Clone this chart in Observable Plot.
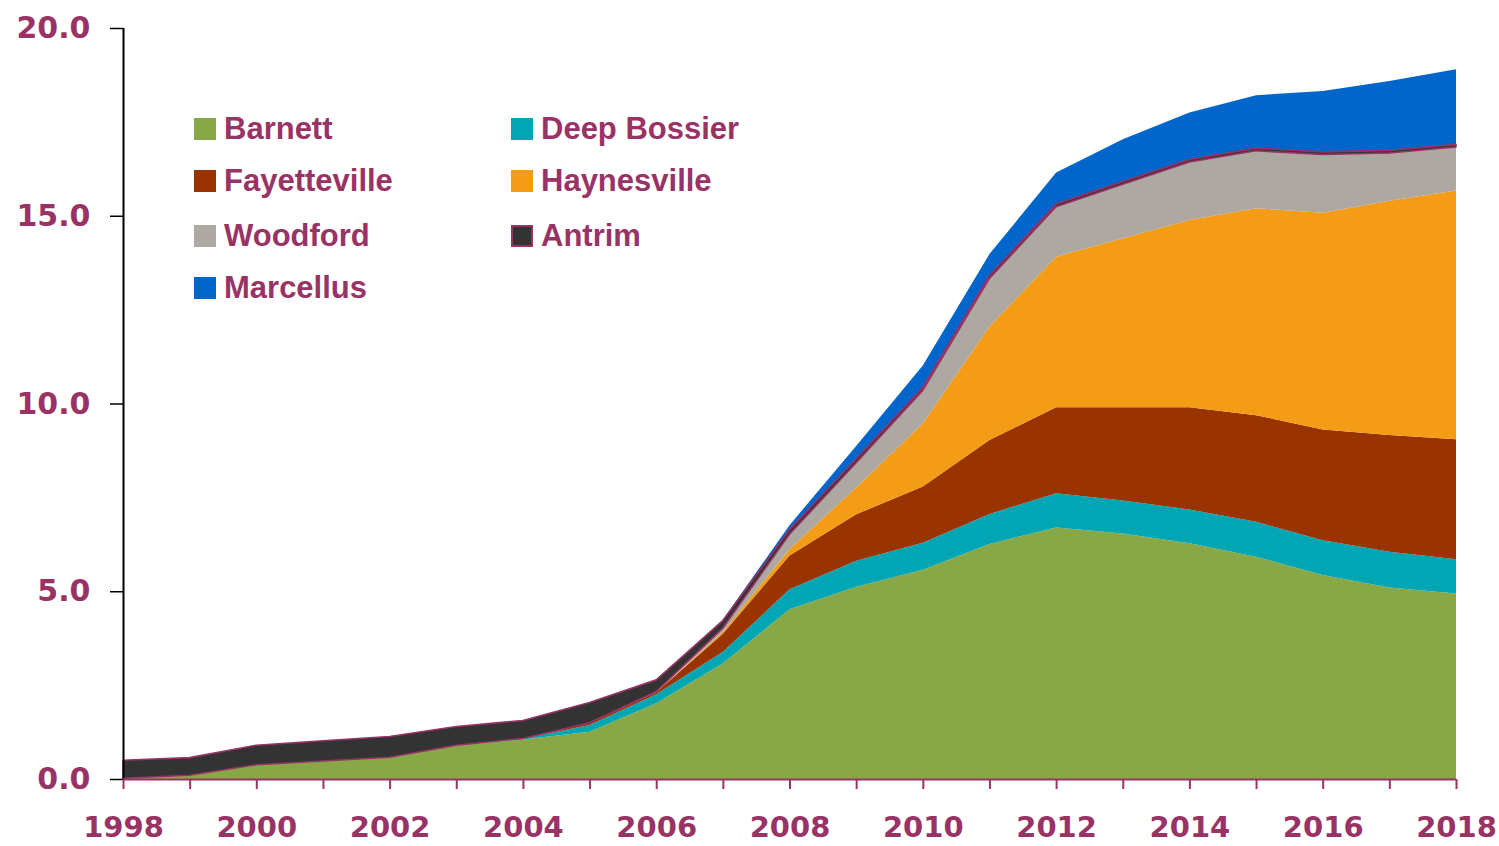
<!DOCTYPE html>
<html>
<head>
<meta charset="utf-8">
<script src="https://cdn.jsdelivr.net/npm/d3@7"></script>
<script src="https://cdn.jsdelivr.net/npm/@observablehq/plot@0.6"></script>
<style>
  html, body { margin: 0; padding: 0; background: #fff; }
  #wrap { position: relative; width: 1499px; height: 846px; }
  .leg { position: absolute; display: flex; align-items: center; height: 22px;
         font-family: "Liberation Sans", Arial, sans-serif; font-weight: bold;
         font-size: 31px; line-height: 22px; color: #993366; white-space: nowrap; }
  .sw { width: 22px; height: 22px; margin-right: 8px; box-sizing: border-box; flex: none; }
</style>
</head>
<body>
<div id="wrap"></div>
<script>
const years = [1998,1999,2000,2001,2002,2003,2004,2005,2006,2007,2008,2009,2010,2011,2012,2013,2014,2015,2016,2017,2018];
const seriesNames = ["Barnett","Deep Bossier","Fayetteville","Haynesville","Woodford","Antrim","Marcellus"];
const seriesColors = ["#88a847","#00a6b4","#993300","#f59c17","#ada9a2","#333333","#0066cc"];

const barnett      = [0.02,0.10,0.38,0.48,0.58,0.90,1.05,1.26,2.02,3.08,4.52,5.12,5.57,6.26,6.70,6.54,6.28,5.92,5.43,5.10,4.94];
const deepBossier  = [0,0,0,0,0,0,0.02,0.18,0.24,0.31,0.53,0.69,0.72,0.80,0.91,0.88,0.90,0.93,0.93,0.95,0.91];
const fayetteville = [0,0,0,0,0,0,0.01,0.06,0.05,0.48,0.90,1.24,1.50,1.97,2.29,2.48,2.72,2.84,2.95,3.11,3.20];
const haynesville  = [0,0,0,0,0,0,0,0,0,0.05,0.17,0.71,1.68,3.02,4.01,4.50,4.99,5.51,5.77,6.24,6.62];
const woodford     = [0,0,0,0,0,0,0,0,0.02,0.10,0.40,0.66,0.88,1.28,1.33,1.44,1.54,1.53,1.55,1.27,1.16];
const antrim       = [0.48,0.47,0.52,0.54,0.55,0.50,0.48,0.54,0.31,0.20,0.12,0.10,0.08,0.08,0.07,0.07,0.07,0.07,0.07,0.07,0.07];
const marcellus    = [0,0,0,0,0,0,0,0,0,0.02,0.12,0.35,0.58,0.57,0.84,1.13,1.25,1.41,1.62,1.85,2.00];

const yTicks = [0,5,10,15,20];
const xLabelTicks = [1998,2000,2002,2004,2006,2008,2010,2012,2014,2016,2018];

const allSeries = [barnett, deepBossier, fayetteville, haynesville, woodford, antrim, marcellus];
const data = [];
seriesNames.forEach((name, i) => {
  years.forEach((yr, j) => data.push({year: yr, name, value: allSeries[i][j]}));
});

// Antrim band (for its outline)
const antrimRows = years.map((yr, j) => {
  let lo = 0;
  for (let i = 0; i < 5; i++) lo += allSeries[i][j];
  return {year: yr, lo, hi: lo + antrim[j]};
});

const magenta = "#993366";

const chart = Plot.plot({
  width: 1499,
  height: 846,
  marginLeft: 123,
  marginRight: 43,
  marginTop: 28,
  marginBottom: 67,
  style: {fontFamily: "'DejaVu Sans', sans-serif", fontWeight: "bold", fontSize: "30px", background: "#fff"},
  x: {domain: [1998, 2018]},
  y: {domain: [0, 20]},
  color: {domain: seriesNames, range: seriesColors},
  marks: [
    Plot.areaY(data, {x: "year", y: "value", z: "name", fill: "name", order: seriesNames}),
    Plot.areaY(antrimRows, {x: "year", y1: "lo", y2: "hi", fill: "#333333", stroke: magenta, strokeWidth: 1.6}),
    Plot.ruleX([1998], {y1: 0, y2: 20, stroke: "#000", strokeWidth: 2}),
    Plot.ruleY([0], {x1: 1998, x2: 2018, stroke: magenta, strokeWidth: 2}),
    Plot.axisY({ticks: yTicks, tickFormat: d3.format(".1f"), tickSize: 13, tickPadding: 20,
                stroke: "#000", fill: magenta, strokeWidth: 1.5, label: null}),
    Plot.axisX({ticks: years, tickSize: 10, tickFormat: () => "", stroke: magenta, strokeWidth: 2, label: null}),
    Plot.axisX({ticks: xLabelTicks, tickSize: 0, tickPadding: 37, fontSize: 29, tickFormat: d3.format("d"), fill: magenta, label: null})
  ]
});

const wrap = document.getElementById("wrap");
wrap.appendChild(chart);

// Legend
const legendLayout = [
  {name: "Barnett", left: 194, top: 118},
  {name: "Deep Bossier", left: 511, top: 118},
  {name: "Fayetteville", left: 194, top: 170},
  {name: "Haynesville", left: 511, top: 170},
  {name: "Woodford", left: 194, top: 225},
  {name: "Antrim", left: 511, top: 225},
  {name: "Marcellus", left: 194, top: 277}
];
legendLayout.forEach(item => {
  const div = document.createElement("div");
  div.className = "leg";
  div.style.left = item.left + "px";
  div.style.top = item.top + "px";
  const sw = document.createElement("div");
  sw.className = "sw";
  sw.style.background = seriesColors[seriesNames.indexOf(item.name)];
  if (item.name === "Antrim") sw.style.border = "2px solid " + magenta;
  const t = document.createElement("span");
  t.textContent = item.name;
  div.appendChild(sw);
  div.appendChild(t);
  wrap.appendChild(div);
});
</script>
</body>
</html>
